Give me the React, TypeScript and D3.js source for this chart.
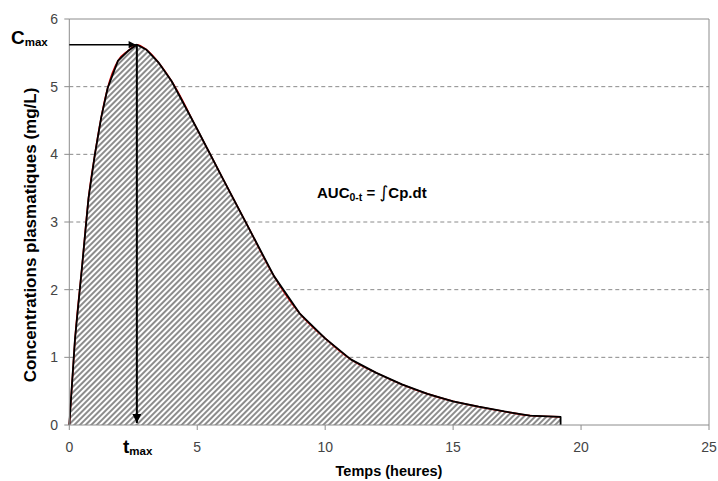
import React from "react";
import * as d3 from "d3";

const times = [0, 0.22, 0.5, 0.75, 1.0, 1.25, 1.5, 1.9, 2.3, 2.64, 3.0, 3.5, 4.0, 5.0, 6.0, 7.0, 8.0, 9.0, 10.0, 11.0, 12.0, 13.0, 14.0, 15.0, 16.0, 17.0, 18.0, 19.2];
const concentrations = [0, 1.26, 2.35, 3.35, 4.0, 4.55, 4.98, 5.38, 5.53, 5.62, 5.55, 5.35, 5.08, 4.37, 3.64, 2.92, 2.2, 1.65, 1.28, 0.97, 0.77, 0.6, 0.46, 0.35, 0.27, 0.2, 0.14, 0.12];
const xTicks = [0, 5, 10, 15, 20, 25];
const yTicks = [0, 1, 2, 3, 4, 5, 6];
const tmax = 2.64;
const cmax = 5.62;

const W = 718;
const H = 481;

export default function App() {
  const x = d3.scaleLinear().domain([0, 25]).range([69.3, 709]);
  const y = d3.scaleLinear().domain([0, 6]).range([425, 19]);
  const pts: [number, number][] = times.map((t, i) => [t, concentrations[i]]);
  const tEnd = times[times.length - 1];

  const area = d3
    .area<[number, number]>()
    .x((d) => x(d[0]))
    .y0(y(0))
    .y1((d) => y(d[1]))
    .curve(d3.curveLinear);
  const lineLin = d3
    .line<[number, number]>()
    .x((d) => x(d[0]))
    .y((d) => y(d[1]))
    .curve(d3.curveLinear);
  const lineSmooth = d3
    .line<[number, number]>()
    .x((d) => x(d[0]))
    .y((d) => y(d[1]))
    .curve(d3.curveMonotoneX);

  const blackPts: [number, number][] = [...pts, [tEnd, 0]];

  const font = "'Liberation Sans', Arial, sans-serif";
  const axisColor = "#8c8c8c";

  return (
    <svg
      width={W}
      height={H}
      style={{ position: "absolute", left: 0, top: 0, background: "#fff" }}
      fontFamily={font}
    >
      <defs>
        <pattern
          id="hatch"
          patternUnits="userSpaceOnUse"
          width={4}
          height={4}
          patternTransform="rotate(45)"
        >
          <rect width={4} height={4} fill="#fff" />
          <line x1={1} y1={0} x2={1} y2={4} stroke="#808080" strokeWidth={1.8} />
        </pattern>
        <marker
          id="arrow"
          viewBox="0 0 10 10"
          refX={10}
          refY={5}
          markerWidth={5}
          markerHeight={4.5}
          markerUnits="strokeWidth"
          orient="auto"
        >
          <path d="M0,0 L10,5 L0,10 Z" fill="#000" />
        </marker>
      </defs>

      {/* gridlines */}
      {yTicks
        .filter((v) => v > 0 && v < 6)
        .map((v) => (
          <line
            key={"g" + v}
            x1={x(0)}
            x2={x(25)}
            y1={y(v)}
            y2={y(v)}
            stroke="#8a8a8a"
            strokeWidth={1}
            strokeDasharray="4,3"
          />
        ))}

      {/* hatched area */}
      <path d={area(pts) || ""} fill="url(#hatch)" stroke="none" />

      {/* red smooth model curve */}
      <path d={lineSmooth(pts) || ""} fill="none" stroke="#d00000" strokeWidth={1.6} />
      {/* black data polyline */}
      <path d={lineLin(blackPts) || ""} fill="none" stroke="#000" strokeWidth={1.8} strokeLinejoin="round" />

      {/* frame */}
      <line x1={x(0)} x2={x(25)} y1={y(6)} y2={y(6)} stroke={axisColor} strokeWidth={1} />
      <line x1={x(25)} x2={x(25)} y1={y(6)} y2={y(0)} stroke={axisColor} strokeWidth={1} />
      <line x1={x(0)} x2={x(0)} y1={y(6)} y2={y(0)} stroke={axisColor} strokeWidth={1} />
      <line x1={x(0)} x2={x(25)} y1={y(0)} y2={y(0)} stroke={axisColor} strokeWidth={1} />

      {/* y ticks */}
      {yTicks.map((v) => (
        <g key={"y" + v}>
          <line x1={x(0) - 5} x2={x(0)} y1={y(v)} y2={y(v)} stroke={axisColor} />
          <text
            x={58}
            y={y(v)}
            dy="0.35em"
            textAnchor="end"
            fontSize={14}
            fill="#444"
          >
            {v}
          </text>
        </g>
      ))}

      {/* x ticks */}
      {xTicks.map((v) => (
        <g key={"x" + v}>
          <line x1={x(v)} x2={x(v)} y1={y(0)} y2={y(0) + 5} stroke={axisColor} />
          <text x={x(v)} y={452} textAnchor="middle" fontSize={14} fill="#444">
            {v}
          </text>
        </g>
      ))}

      {/* axis titles */}
      <text
        transform={`translate(36, ${235}) rotate(-90)`}
        textAnchor="middle"
        fontSize={17}
        fontWeight="bold"
        fill="#000"
      >
        Concentrations plasmatiques (mg/L)
      </text>
      <text x={389} y={476} textAnchor="middle" fontSize={14.5} fontWeight="bold" fill="#000">
        Temps (heures)
      </text>

      {/* arrows */}
      <line
        x1={x(0)}
        y1={y(cmax)}
        x2={x(tmax) - 1}
        y2={y(cmax)}
        stroke="#000"
        strokeWidth={1.6}
        markerEnd="url(#arrow)"
      />
      <line
        x1={x(tmax)}
        y1={y(cmax)}
        x2={x(tmax)}
        y2={y(0) - 2}
        stroke="#000"
        strokeWidth={2}
        markerEnd="url(#arrow)"
      />

      {/* Cmax label */}
      <text x={11} y={44} fontWeight="bold" fill="#000">
        <tspan fontSize={19}>C</tspan>
        <tspan fontSize={11.5} dy={2}>max</tspan>
      </text>

      {/* tmax label */}
      <text x={123} y={453} fontWeight="bold" fill="#000">
        <tspan fontSize={19}>t</tspan>
        <tspan fontSize={11.5} dy={2}>max</tspan>
      </text>

      {/* AUC label */}
      <text x={317} y={198} fontWeight="bold" fill="#000" fontSize={15}>
        <tspan>AUC</tspan>
        <tspan fontSize={10.5} dy={3}>0-t</tspan>
        <tspan dy={-3}> = </tspan>
        <tspan fontWeight="normal" fontSize={17} fontFamily="'DejaVu Sans', sans-serif">∫</tspan>
        <tspan>Cp.dt</tspan>
      </text>
    </svg>
  );
}
